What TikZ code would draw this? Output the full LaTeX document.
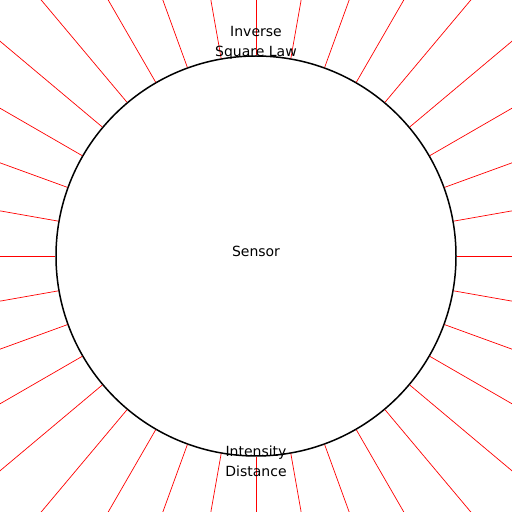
\documentclass[tikz,border=0pt]{standalone}
\usepackage{fontspec}
\setmainfont{DejaVu Sans}
\begin{document}
\begin{tikzpicture}[x=1pt,y=1pt]
	\tikzstyle{capteur}=[circle,draw,line width=1.5pt,minimum size=400pt,inner sep=0pt]
	\tikzstyle{rayon}=[red,line width=0.7pt]
	\tikzstyle{etiquette}=[align=center,font=\fontsize{14}{20}\selectfont]
	\useasboundingbox (0,0) rectangle (512,512);
	\clip (0,0) rectangle (512,512);
	\node[capteur] (S) at (256,256){};
	\foreach \a in {0,10,...,350}
		\draw[rayon] (S.\a) -- ++(\a:180);
	\node[etiquette] (C) at (256,261){Sensor};
	\node[etiquette] (T) at (256,469){Inverse\\Square Law};
	\node[etiquette] (B) at (256,51){Intensity\\Distance};
\end{tikzpicture}
\end{document}
